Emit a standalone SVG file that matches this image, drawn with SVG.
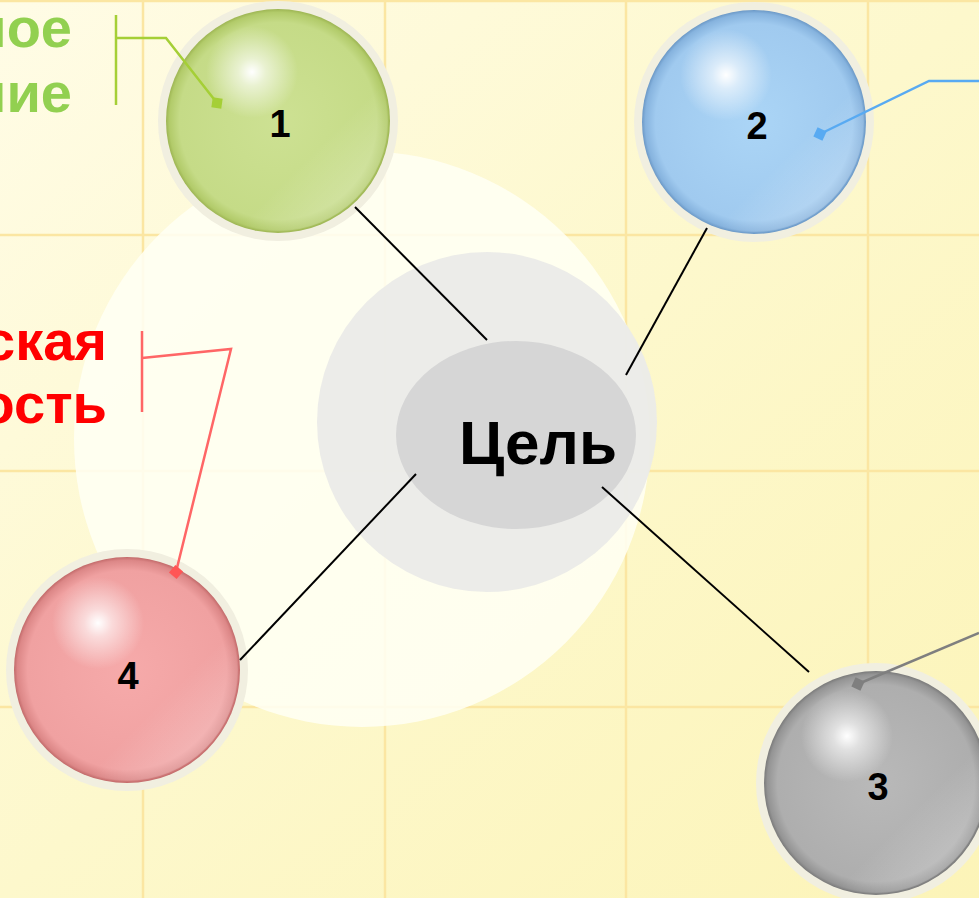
<svg xmlns="http://www.w3.org/2000/svg" width="979" height="898" viewBox="0 0 979 898">
<defs>
<linearGradient id="bg" x1="0" y1="0" x2="1" y2="1">
<stop offset="0" stop-color="#fffce6"/>
<stop offset="0.5" stop-color="#fdf8cc"/>
<stop offset="1" stop-color="#fcf4b8"/>
</linearGradient>
<radialGradient id="hl" cx="0.5" cy="0.5" r="0.5">
<stop offset="0" stop-color="#ffffff" stop-opacity="1"/>
<stop offset="0.3" stop-color="#ffffff" stop-opacity="0.6"/>
<stop offset="1" stop-color="#ffffff" stop-opacity="0"/>
</radialGradient>
<radialGradient id="gGreen" cx="0.5" cy="0.5" r="0.5">
<stop offset="0" stop-color="#cde193"/>
<stop offset="0.88" stop-color="#c5db87"/>
<stop offset="0.97" stop-color="#b2cb6a"/>
<stop offset="1" stop-color="#9db553"/>
</radialGradient>
<radialGradient id="gBlue" cx="0.5" cy="0.5" r="0.5">
<stop offset="0" stop-color="#abd5f6"/>
<stop offset="0.88" stop-color="#a0caef"/>
<stop offset="0.97" stop-color="#86b3de"/>
<stop offset="1" stop-color="#6b98c6"/>
</radialGradient>
<radialGradient id="gGray" cx="0.5" cy="0.5" r="0.5">
<stop offset="0" stop-color="#b9b9b9"/>
<stop offset="0.88" stop-color="#aeaeae"/>
<stop offset="0.97" stop-color="#949494"/>
<stop offset="1" stop-color="#7a7a7a"/>
</radialGradient>
<radialGradient id="gPink" cx="0.5" cy="0.5" r="0.5">
<stop offset="0" stop-color="#f6aaaa"/>
<stop offset="0.88" stop-color="#f0a1a1"/>
<stop offset="0.97" stop-color="#dc8787"/>
<stop offset="1" stop-color="#c26a6a"/>
</radialGradient>
<linearGradient id="refl" x1="0" y1="0" x2="1" y2="1">
<stop offset="0.65" stop-color="#ffffff" stop-opacity="0"/>
<stop offset="1" stop-color="#ffffff" stop-opacity="0.4"/>
</linearGradient>
<style>
.grid{stroke:#fbe6a2;stroke-width:2.5;fill:none}
.halo{fill:#f1efe0}
.num{font-family:"Liberation Sans",Arial,sans-serif;font-weight:bold;font-size:38px;fill:#000;text-anchor:middle}
.conn{stroke:#000;stroke-width:2;fill:none}
.lbl{font-family:"Liberation Sans",Arial,sans-serif;font-weight:bold;font-size:56px;text-anchor:end}
</style>
</defs>

<rect x="0" y="0" width="979" height="898" fill="url(#bg)"/>
<g id="grid">
<line class="grid" x1="0" y1="1" x2="979" y2="1"/>
<line class="grid" x1="0" y1="235" x2="979" y2="235"/>
<line class="grid" x1="0" y1="471" x2="979" y2="471"/>
<line class="grid" x1="0" y1="707" x2="979" y2="707"/>
<line class="grid" x1="143" y1="0" x2="143" y2="898"/>
<line class="grid" x1="385" y1="0" x2="385" y2="898"/>
<line class="grid" x1="626" y1="0" x2="626" y2="898"/>
<line class="grid" x1="868" y1="0" x2="868" y2="898"/>
</g>

<g id="backdrop">
<circle cx="362" cy="439" r="288" fill="#fffff4" opacity="0.88"/>
</g>

<g id="center">
<circle cx="487" cy="422" r="170" fill="#ebebe8" opacity="0.95"/>
<ellipse cx="516" cy="435" rx="120" ry="94" fill="#d6d6d6"/>
<text x="538" y="464" font-family="'Liberation Sans',Arial,sans-serif" font-weight="bold" font-size="62" text-anchor="middle" fill="#000">Цель</text>
</g>

<g id="node1">
<circle class="halo" cx="278" cy="121" r="120"/>
<circle cx="278" cy="121" r="112" fill="url(#gGreen)"/>
<circle cx="252" cy="72" r="46" fill="url(#hl)"/>
<circle cx="278" cy="121" r="110" fill="url(#refl)"/>
<text class="num" x="280" y="137">1</text>
</g>

<g id="node2">
<circle class="halo" cx="754" cy="122" r="120"/>
<circle cx="754" cy="122" r="112" fill="url(#gBlue)"/>
<circle cx="726" cy="75" r="46" fill="url(#hl)"/>
<circle cx="754" cy="122" r="110" fill="url(#refl)"/>
<text class="num" x="757" y="139">2</text>
</g>

<g id="node3">
<circle class="halo" cx="876" cy="783" r="120"/>
<circle cx="876" cy="783" r="112" fill="url(#gGray)"/>
<circle cx="847" cy="736" r="46" fill="url(#hl)"/>
<circle cx="876" cy="783" r="110" fill="url(#refl)"/>
<text class="num" x="878" y="800">3</text>
</g>

<g id="node4">
<circle class="halo" cx="127" cy="670" r="121"/>
<circle cx="127" cy="670" r="113" fill="url(#gPink)"/>
<circle cx="98" cy="623" r="46" fill="url(#hl)"/>
<circle cx="127" cy="670" r="111" fill="url(#refl)"/>
<text class="num" x="128" y="689">4</text>
</g>

<g id="connectors">
<line class="conn" x1="355" y1="207" x2="487" y2="340"/>
<line class="conn" x1="707" y1="228" x2="626" y2="375"/>
<line class="conn" x1="602" y1="487" x2="809" y2="672"/>
<line class="conn" x1="416" y1="474" x2="240" y2="660"/>
</g>

<g id="callout1">
<polyline points="116,15 116,105" stroke="#a5cf36" stroke-width="2.5" fill="none"/>
<polyline points="116,38 166,38 217,103" stroke="#a5cf36" stroke-width="2.5" fill="none"/>
<rect x="212" y="98" width="10" height="10" fill="#a5cf36" transform="rotate(8 217 103)"/>
<text class="lbl" x="72" y="47" fill="#92d050">ное</text>
<text class="lbl" x="72" y="112" fill="#92d050">ние</text>
</g>

<g id="callout2">
<polyline points="820,134 929,81 979,81" stroke="#58aaf2" stroke-width="2.5" fill="none"/>
<rect x="815" y="129" width="10" height="10" fill="#58aaf2" transform="rotate(25 820 134)"/>
</g>

<g id="callout3">
<polyline points="858,684 979,633" stroke="#7f7f7f" stroke-width="2.5" fill="none"/>
<rect x="853" y="679" width="10" height="10" fill="#7f7f7f" transform="rotate(25 858 684)"/>
</g>

<g id="callout4">
<polyline points="142,331 142,412" stroke="#ff6666" stroke-width="2.5" fill="none"/>
<polyline points="142,358 231,349 176,572" stroke="#ff6666" stroke-width="2.5" fill="none"/>
<rect x="171" y="567" width="10" height="10" fill="#ff5555" transform="rotate(40 176 572)"/>
<text class="lbl" x="107" y="360" fill="#ff0000">ская</text>
<text class="lbl" x="107" y="423" fill="#ff0000">ость</text>
</g>
</svg>
